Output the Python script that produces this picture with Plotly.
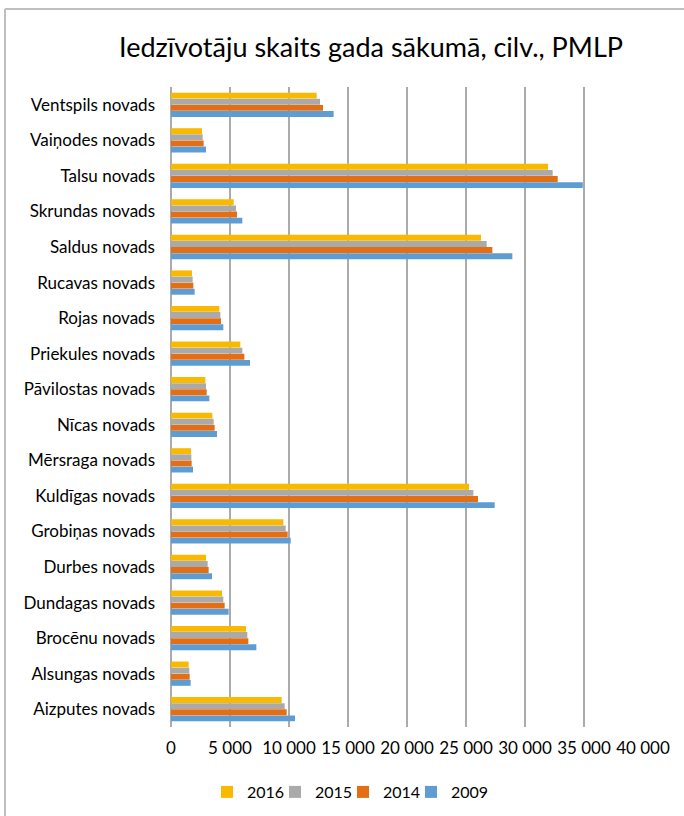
import plotly.graph_objects as go

categories = ["Aizputes novads", "Alsungas novads", "Brocēnu novads", "Dundagas novads",
              "Durbes novads", "Grobiņas novads", "Kuldīgas novads", "Mērsraga novads",
              "Nīcas novads", "Pāvilostas novads", "Priekules novads", "Rojas novads",
              "Rucavas novads", "Saldus novads", "Skrundas novads", "Talsu novads",
              "Vaiņodes novads", "Ventspils novads"]

v2009 = [10509, 1667, 7232, 4887, 3475, 10142, 27431, 1865, 3899, 3249, 6695, 4435,
         2006, 28928, 6045, 34900, 2966, 13786]
v2014 = [9803, 1582, 6554, 4548, 3192, 9888, 26018, 1752, 3700, 3023, 6215, 4237,
         1893, 27233, 5593, 32770, 2768, 12882]
v2015 = [9633, 1554, 6469, 4435, 3108, 9718, 25623, 1723, 3616, 2966, 6045, 4181,
         1836, 26753, 5509, 32346, 2684, 12628]
v2016 = [9379, 1497, 6356, 4322, 2966, 9520, 25256, 1695, 3503, 2910, 5876, 4096,
         1780, 26272, 5311, 31951, 2627, 12345]

tick_vals = [0, 5000, 10000, 15000, 20000, 25000, 30000, 35000, 40000]
tick_text = ["0", "5 000", "10 000", "15 000", "20 000", "25 000", "30 000", "35 000", "40 000"]

# (name, values, colour, legend id, legend left edge in px)
series = [("2009", v2009, "#5E9DD3", "legend4", 411),
          ("2014", v2014, "#E46E14", "legend3", 343),
          ("2015", v2015, "#AAAAAA", "legend2", 275),
          ("2016", v2016, "#F9B900", "legend", 207)]

W, H = 684, 816
L, R, T, B = 171, 41, 87, 89
pw, ph = W - L - R, H - T - B
FONT = "Lato"

fig = go.Figure()
legends = {}
for name, vals, col, lg, lx in series:
    fig.add_trace(go.Bar(y=categories, x=vals, name=name, orientation="h", legend=lg,
                         marker=dict(color=col, line=dict(width=0))))
    legends[lg] = dict(x=lx / W, xref="container", xanchor="left",
                       y=1 - 792 / H, yref="container", yanchor="middle",
                       orientation="h", font=dict(family=FONT, size=16),
                       bgcolor="rgba(0,0,0,0)", borderwidth=0)

def px2paper_x(px):
    return (px - L) / pw

def py2paper_y(py):
    return (H - B - py) / ph

fig.update_layout(
    width=W, height=H,
    margin=dict(l=L, r=R, t=T, b=B, autoexpand=False),
    paper_bgcolor="white", plot_bgcolor="white",
    barmode="group", bargap=0.31, bargroupgap=0.04,
    font=dict(family=FONT, size=17, color="#000000"),
    title=dict(text="Iedzīvotāju skaits gada sākumā, cilv., PMLP",
               font=dict(family=FONT, size=27, color="#000000"),
               x=371 / W, xref="container", xanchor="center",
               y=1 - 48 / H, yref="container", yanchor="middle"),
    xaxis=dict(range=[0, 40000], tickvals=tick_vals, ticktext=tick_text,
               showgrid=True, gridcolor="#ABABAB", gridwidth=1.5,
               zeroline=True, zerolinecolor="#ABABAB", zerolinewidth=1.5,
               showline=False, ticks="", ticklabelstandoff=9,
               tickfont=dict(family=FONT, size=17)),
    yaxis=dict(categoryorder="array", categoryarray=categories,
               showgrid=False, zeroline=False, showline=False, ticks="",
               ticklabelstandoff=15, tickfont=dict(family=FONT, size=17)),
    showlegend=True,
    **legends,
)

fig.add_shape(type="line", xref="paper", yref="paper",
              x0=px2paper_x(5), x1=px2paper_x(5), y0=py2paper_y(9), y1=py2paper_y(830),
              line=dict(color="#BFBFBF", width=2))
fig.add_shape(type="line", xref="paper", yref="paper",
              x0=px2paper_x(5), x1=px2paper_x(700), y0=py2paper_y(9), y1=py2paper_y(9),
              line=dict(color="#BFBFBF", width=2))

fig.write_html("out.html", config={"displayModeBar": False},
               post_script="document.body.style.margin='0';")
